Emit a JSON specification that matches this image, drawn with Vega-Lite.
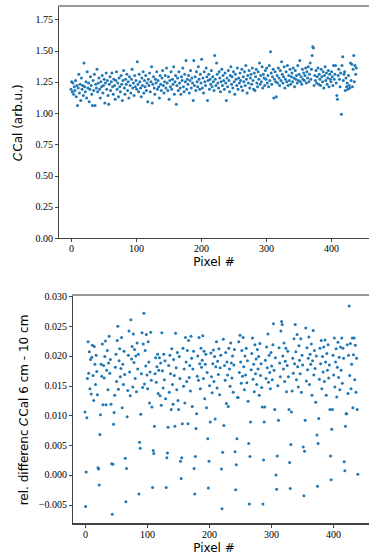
{
"$schema":"https://vega.github.io/schema/vega-lite/v6.json",
"padding":{"top":5,"left":11,"right":0,"bottom":0},
"background":"white",
"spacing":23,
"columns":1,
"align":"none",
"config":{"view":{"stroke":null},
"axis":{"grid":false,"labelOverlap":false,"labelFlush":false,"labelBound":false,"labelFont":"Liberation Serif","labelFontSize":10,"labelColor":"#000","tickColor":"#444","domainColor":"#444","tickSize":3.5,"labelPadding":2,"titleFont":"DejaVu Sans","titleFontSize":12,"titleFontWeight":"normal","titleColor":"#000"}},
"datasets":{
"top":[{"x":0,"y":1.19},{"x":1,"y":1.25},{"x":2,"y":1.17},{"x":3,"y":1.24},{"x":4,"y":1.15},{"x":5,"y":1.21},{"x":6,"y":1.18},{"x":7,"y":1.26},{"x":8,"y":1.13},{"x":9,"y":1.22},{"x":10,"y":1.06},{"x":11,"y":1.20},{"x":12,"y":1.31},{"x":13,"y":1.16},{"x":14,"y":1.23},{"x":15,"y":1.10},{"x":16,"y":1.28},{"x":17,"y":1.19},{"x":18,"y":1.22},{"x":19,"y":1.14},
{"x":20,"y":1.40},{"x":21,"y":1.21},{"x":22,"y":1.17},{"x":23,"y":1.25},{"x":24,"y":1.12},{"x":25,"y":1.33},{"x":26,"y":1.20},{"x":27,"y":1.24},{"x":28,"y":1.09},{"x":29,"y":1.19},{"x":30,"y":1.29},{"x":31,"y":1.22},{"x":32,"y":1.15},{"x":33,"y":1.06},{"x":34,"y":1.26},{"x":35,"y":1.18},{"x":36,"y":1.31},{"x":37,"y":1.06},{"x":38,"y":1.23},{"x":39,"y":1.20},
{"x":40,"y":1.35},{"x":41,"y":1.17},{"x":42,"y":1.24},{"x":43,"y":1.28},{"x":44,"y":1.19},{"x":45,"y":1.12},{"x":46,"y":1.25},{"x":47,"y":1.21},{"x":48,"y":1.30},{"x":49,"y":1.16},{"x":50,"y":1.22},{"x":51,"y":1.27},{"x":52,"y":1.08},{"x":53,"y":1.24},{"x":54,"y":1.32},{"x":55,"y":1.19},{"x":56,"y":1.26},{"x":57,"y":1.14},{"x":58,"y":1.07},{"x":59,"y":1.23},
{"x":60,"y":1.29},{"x":61,"y":1.18},{"x":62,"y":1.25},{"x":63,"y":1.32},{"x":64,"y":1.21},{"x":65,"y":1.15},{"x":66,"y":1.27},{"x":67,"y":1.22},{"x":68,"y":1.11},{"x":69,"y":1.26},{"x":70,"y":1.33},{"x":71,"y":1.19},{"x":72,"y":1.24},{"x":73,"y":1.13},{"x":74,"y":1.28},{"x":75,"y":1.21},{"x":76,"y":1.17},{"x":77,"y":1.30},{"x":78,"y":1.23},{"x":79,"y":1.10},
{"x":80,"y":1.26},{"x":81,"y":1.34},{"x":82,"y":1.20},{"x":83,"y":1.15},{"x":84,"y":1.27},{"x":85,"y":1.23},{"x":86,"y":1.31},{"x":87,"y":1.18},{"x":88,"y":1.25},{"x":89,"y":1.12},{"x":90,"y":1.29},{"x":91,"y":1.22},{"x":92,"y":1.16},{"x":93,"y":1.27},{"x":94,"y":1.35},{"x":95,"y":1.20},{"x":96,"y":1.24},{"x":97,"y":1.14},{"x":98,"y":1.30},{"x":99,"y":1.21},
{"x":100,"y":1.26},{"x":101,"y":1.19},{"x":102,"y":1.41},{"x":103,"y":1.23},{"x":104,"y":1.17},{"x":105,"y":1.31},{"x":106,"y":1.25},{"x":107,"y":1.20},{"x":108,"y":1.13},{"x":109,"y":1.28},{"x":110,"y":1.22},{"x":111,"y":1.33},{"x":112,"y":1.16},{"x":113,"y":1.26},{"x":114,"y":1.21},{"x":115,"y":1.30},{"x":116,"y":1.18},{"x":117,"y":1.24},{"x":118,"y":1.09},{"x":119,"y":1.27},
{"x":120,"y":1.22},{"x":121,"y":1.32},{"x":122,"y":1.17},{"x":123,"y":1.25},{"x":124,"y":1.37},{"x":125,"y":1.08},{"x":126,"y":1.23},{"x":127,"y":1.29},{"x":128,"y":1.20},{"x":129,"y":1.15},{"x":130,"y":1.27},{"x":131,"y":1.24},{"x":132,"y":1.33},{"x":133,"y":1.19},{"x":134,"y":1.26},{"x":135,"y":1.21},{"x":136,"y":1.12},{"x":137,"y":1.30},{"x":138,"y":1.23},{"x":139,"y":1.18},
{"x":140,"y":1.28},{"x":141,"y":1.34},{"x":142,"y":1.22},{"x":143,"y":1.16},{"x":144,"y":1.25},{"x":145,"y":1.30},{"x":146,"y":1.20},{"x":147,"y":1.36},{"x":148,"y":1.24},{"x":149,"y":1.18},{"x":150,"y":1.29},{"x":151,"y":1.11},{"x":152,"y":1.26},{"x":153,"y":1.21},{"x":154,"y":1.33},{"x":155,"y":1.19},{"x":156,"y":1.27},{"x":157,"y":1.23},{"x":158,"y":1.37},{"x":159,"y":1.15},
{"x":160,"y":1.25},{"x":161,"y":1.30},{"x":162,"y":1.07},{"x":163,"y":1.22},{"x":164,"y":1.28},{"x":165,"y":1.18},{"x":166,"y":1.33},{"x":167,"y":1.24},{"x":168,"y":1.20},{"x":169,"y":1.15},{"x":170,"y":1.29},{"x":171,"y":1.26},{"x":172,"y":1.36},{"x":173,"y":1.21},{"x":174,"y":1.17},{"x":175,"y":1.31},{"x":176,"y":1.25},{"x":177,"y":1.42},{"x":178,"y":1.19},{"x":179,"y":1.27},
{"x":180,"y":1.23},{"x":181,"y":1.30},{"x":182,"y":1.16},{"x":183,"y":1.26},{"x":184,"y":1.34},{"x":185,"y":1.20},{"x":186,"y":1.28},{"x":187,"y":1.24},{"x":188,"y":1.10},{"x":189,"y":1.42},{"x":190,"y":1.22},{"x":191,"y":1.29},{"x":192,"y":1.18},{"x":193,"y":1.33},{"x":194,"y":1.25},{"x":195,"y":1.21},{"x":196,"y":1.37},{"x":197,"y":1.27},{"x":198,"y":1.19},{"x":199,"y":1.31},
{"x":200,"y":1.24},{"x":201,"y":1.43},{"x":202,"y":1.20},{"x":203,"y":1.28},{"x":204,"y":1.16},{"x":205,"y":1.33},{"x":206,"y":1.25},{"x":207,"y":1.22},{"x":208,"y":1.36},{"x":209,"y":1.29},{"x":210,"y":1.10},{"x":211,"y":1.26},{"x":212,"y":1.31},{"x":213,"y":1.19},{"x":214,"y":1.27},{"x":215,"y":1.23},{"x":216,"y":1.34},{"x":217,"y":1.21},{"x":218,"y":1.29},{"x":219,"y":1.25},
{"x":220,"y":1.18},{"x":221,"y":1.46},{"x":222,"y":1.27},{"x":223,"y":1.22},{"x":224,"y":1.40},{"x":225,"y":1.31},{"x":226,"y":1.24},{"x":227,"y":1.20},{"x":228,"y":1.33},{"x":229,"y":1.28},{"x":230,"y":1.17},{"x":231,"y":1.25},{"x":232,"y":1.35},{"x":233,"y":1.22},{"x":234,"y":1.30},{"x":235,"y":1.26},{"x":236,"y":1.19},{"x":237,"y":1.32},{"x":238,"y":1.24},{"x":239,"y":1.10},
{"x":240,"y":1.28},{"x":241,"y":1.21},{"x":242,"y":1.34},{"x":243,"y":1.26},{"x":244,"y":1.17},{"x":245,"y":1.30},{"x":246,"y":1.37},{"x":247,"y":1.23},{"x":248,"y":1.29},{"x":249,"y":1.20},{"x":250,"y":1.33},{"x":251,"y":1.25},{"x":252,"y":1.15},{"x":253,"y":1.31},{"x":254,"y":1.27},{"x":255,"y":1.22},{"x":256,"y":1.36},{"x":257,"y":1.19},{"x":258,"y":1.28},{"x":259,"y":1.24},
{"x":260,"y":1.32},{"x":261,"y":1.26},{"x":262,"y":1.21},{"x":263,"y":1.35},{"x":264,"y":1.18},{"x":265,"y":1.29},{"x":266,"y":1.25},{"x":267,"y":1.33},{"x":268,"y":1.22},{"x":269,"y":1.38},{"x":270,"y":1.27},{"x":271,"y":1.16},{"x":272,"y":1.30},{"x":273,"y":1.24},{"x":274,"y":1.34},{"x":275,"y":1.20},{"x":276,"y":1.28},{"x":277,"y":1.31},{"x":278,"y":1.23},{"x":279,"y":1.36},
{"x":280,"y":1.26},{"x":281,"y":1.19},{"x":282,"y":1.32},{"x":283,"y":1.18},{"x":284,"y":1.29},{"x":285,"y":1.35},{"x":286,"y":1.24},{"x":287,"y":1.21},{"x":288,"y":1.33},{"x":289,"y":1.27},{"x":290,"y":1.40},{"x":291,"y":1.23},{"x":292,"y":1.30},{"x":293,"y":1.25},{"x":294,"y":1.37},{"x":295,"y":1.20},{"x":296,"y":1.31},{"x":297,"y":1.28},{"x":298,"y":1.22},{"x":299,"y":1.34},
{"x":300,"y":1.27},{"x":301,"y":1.36},{"x":302,"y":1.24},{"x":303,"y":1.30},{"x":304,"y":1.21},{"x":305,"y":1.38},{"x":306,"y":1.26},{"x":307,"y":1.49},{"x":308,"y":1.32},{"x":309,"y":1.23},{"x":310,"y":1.29},{"x":311,"y":1.35},{"x":312,"y":1.12},{"x":313,"y":1.27},{"x":314,"y":1.33},{"x":315,"y":1.25},{"x":316,"y":1.13},{"x":317,"y":1.30},{"x":318,"y":1.24},{"x":319,"y":1.36},
{"x":320,"y":1.28},{"x":321,"y":1.22},{"x":322,"y":1.34},{"x":323,"y":1.26},{"x":324,"y":1.41},{"x":325,"y":1.31},{"x":326,"y":1.24},{"x":327,"y":1.29},{"x":328,"y":1.37},{"x":329,"y":1.20},{"x":330,"y":1.27},{"x":331,"y":1.33},{"x":332,"y":1.25},{"x":333,"y":1.38},{"x":334,"y":1.22},{"x":335,"y":1.30},{"x":336,"y":1.26},{"x":337,"y":1.35},{"x":338,"y":1.23},{"x":339,"y":1.29},
{"x":340,"y":1.32},{"x":341,"y":1.25},{"x":342,"y":1.36},{"x":343,"y":1.28},{"x":344,"y":1.21},{"x":345,"y":1.34},{"x":346,"y":1.27},{"x":347,"y":1.30},{"x":348,"y":1.24},{"x":349,"y":1.38},{"x":350,"y":1.26},{"x":351,"y":1.31},{"x":352,"y":1.42},{"x":353,"y":1.25},{"x":354,"y":1.29},{"x":355,"y":1.23},{"x":356,"y":1.35},{"x":357,"y":1.27},{"x":358,"y":1.32},{"x":359,"y":1.26},
{"x":360,"y":1.30},{"x":361,"y":1.36},{"x":362,"y":1.24},{"x":363,"y":1.33},{"x":364,"y":1.28},{"x":365,"y":1.37},{"x":366,"y":1.25},{"x":367,"y":1.31},{"x":368,"y":1.40},{"x":369,"y":1.27},{"x":370,"y":1.35},{"x":371,"y":1.46},{"x":372,"y":1.53},{"x":373,"y":1.52},{"x":374,"y":1.22},{"x":375,"y":1.30},{"x":376,"y":1.26},{"x":377,"y":1.34},{"x":378,"y":1.24},{"x":379,"y":1.29},
{"x":380,"y":1.36},{"x":381,"y":1.23},{"x":382,"y":1.31},{"x":383,"y":1.27},{"x":384,"y":1.22},{"x":385,"y":1.35},{"x":386,"y":1.29},{"x":387,"y":1.25},{"x":388,"y":1.33},{"x":389,"y":1.20},{"x":390,"y":1.30},{"x":391,"y":1.37},{"x":392,"y":1.26},{"x":393,"y":1.32},{"x":394,"y":1.23},{"x":395,"y":1.28},{"x":396,"y":1.34},{"x":397,"y":1.21},{"x":398,"y":1.31},{"x":399,"y":1.27},
{"x":400,"y":1.25},{"x":401,"y":1.33},{"x":402,"y":1.29},{"x":403,"y":1.22},{"x":404,"y":1.38},{"x":405,"y":1.27},{"x":406,"y":1.31},{"x":407,"y":1.38},{"x":408,"y":1.24},{"x":409,"y":1.14},{"x":410,"y":1.11},{"x":411,"y":1.30},{"x":412,"y":1.35},{"x":413,"y":1.27},{"x":414,"y":1.21},{"x":415,"y":1.32},{"x":416,"y":0.99},{"x":417,"y":1.38},{"x":418,"y":1.45},{"x":419,"y":1.26},
{"x":420,"y":1.31},{"x":421,"y":1.33},{"x":422,"y":1.18},{"x":423,"y":1.28},{"x":424,"y":1.21},{"x":425,"y":1.24},{"x":426,"y":1.19},{"x":427,"y":1.30},{"x":428,"y":1.22},{"x":429,"y":1.20},{"x":430,"y":1.40},{"x":431,"y":1.26},{"x":432,"y":1.39},{"x":433,"y":1.21},{"x":434,"y":1.35},{"x":435,"y":1.46},{"x":436,"y":1.25},{"x":437,"y":1.38},{"x":438,"y":1.31},{"x":439,"y":1.36}],
"bot":[{"x":0,"y":0.0106},{"x":1,"y":-0.0053},{"x":2,"y":0.0005},{"x":3,"y":0.0096},{"x":4,"y":0.0162},{"x":5,"y":0.0224},{"x":6,"y":0.0171},{"x":7,"y":0.0207},{"x":8,"y":0.0145},{"x":9,"y":0.0194},{"x":10,"y":0.0136},{"x":11,"y":0.0198},{"x":12,"y":0.0218},{"x":13,"y":0.0167},{"x":14,"y":0.0125},{"x":15,"y":0.0216},{"x":16,"y":0.0186},{"x":17,"y":0.0152},{"x":18,"y":0.0201},{"x":19,"y":0.0174},
{"x":20,"y":0.0135},{"x":21,"y":0.0012},{"x":22,"y":0.0010},{"x":23,"y":-0.0017},{"x":24,"y":0.0068},{"x":25,"y":0.0101},{"x":26,"y":0.0186},{"x":27,"y":0.0166},{"x":28,"y":0.0220},{"x":29,"y":0.0118},{"x":30,"y":0.0184},{"x":31,"y":0.0163},{"x":32,"y":0.0199},{"x":33,"y":0.0225},{"x":34,"y":0.0118},{"x":35,"y":0.0176},{"x":36,"y":0.0209},{"x":37,"y":0.0143},{"x":38,"y":0.0188},{"x":39,"y":0.0233},
{"x":40,"y":0.0171},{"x":41,"y":0.0194},{"x":42,"y":0.0119},{"x":43,"y":0.0019},{"x":44,"y":-0.0066},{"x":45,"y":0.0018},{"x":46,"y":0.0085},{"x":47,"y":0.0105},{"x":48,"y":0.0134},{"x":49,"y":0.0181},{"x":50,"y":0.0203},{"x":51,"y":0.0157},{"x":52,"y":0.0226},{"x":53,"y":0.0250},{"x":54,"y":0.0144},{"x":55,"y":0.0192},{"x":56,"y":0.0212},{"x":57,"y":0.0165},{"x":58,"y":0.0179},{"x":59,"y":0.0231},
{"x":60,"y":0.0113},{"x":61,"y":0.0186},{"x":62,"y":0.0152},{"x":63,"y":0.0208},{"x":64,"y":0.0169},{"x":65,"y":0.0028},{"x":66,"y":-0.0045},{"x":67,"y":0.0011},{"x":68,"y":0.0098},{"x":69,"y":0.0142},{"x":70,"y":0.0201},{"x":71,"y":0.0242},{"x":72,"y":0.0173},{"x":73,"y":0.0133},{"x":74,"y":0.0261},{"x":75,"y":0.0195},{"x":76,"y":0.0216},{"x":77,"y":0.0148},{"x":78,"y":0.0237},{"x":79,"y":0.0189},
{"x":80,"y":0.0211},{"x":81,"y":0.0162},{"x":82,"y":0.0200},{"x":83,"y":0.0140},{"x":84,"y":0.0222},{"x":85,"y":0.0178},{"x":86,"y":0.0203},{"x":87,"y":-0.0032},{"x":88,"y":0.0055},{"x":89,"y":0.0045},{"x":90,"y":0.0102},{"x":91,"y":0.0170},{"x":92,"y":0.0239},{"x":93,"y":0.0147},{"x":94,"y":0.0220},{"x":95,"y":0.0272},{"x":96,"y":0.0153},{"x":97,"y":0.0209},{"x":98,"y":0.0183},{"x":99,"y":0.0236},
{"x":100,"y":0.0168},{"x":101,"y":0.0145},{"x":102,"y":0.0224},{"x":103,"y":0.0190},{"x":104,"y":0.0121},{"x":105,"y":0.0173},{"x":106,"y":0.0240},{"x":107,"y":0.0159},{"x":108,"y":0.0114},{"x":109,"y":-0.0021},{"x":110,"y":0.0041},{"x":111,"y":0.0036},{"x":112,"y":0.0082},{"x":113,"y":0.0170},{"x":114,"y":0.0197},{"x":115,"y":0.0156},{"x":116,"y":0.0182},{"x":117,"y":0.0203},{"x":118,"y":0.0137},{"x":119,"y":0.0176},
{"x":120,"y":0.0197},{"x":121,"y":0.0133},{"x":122,"y":0.0188},{"x":123,"y":0.0117},{"x":124,"y":0.0239},{"x":125,"y":0.0175},{"x":126,"y":0.0146},{"x":127,"y":0.0203},{"x":128,"y":0.0160},{"x":129,"y":0.0192},{"x":130,"y":0.0128},{"x":131,"y":-0.0021},{"x":132,"y":0.0029},{"x":133,"y":0.0037},{"x":134,"y":0.0080},{"x":135,"y":0.0184},{"x":136,"y":0.0139},{"x":137,"y":0.0201},{"x":138,"y":0.0170},{"x":139,"y":0.0110},
{"x":140,"y":0.0212},{"x":141,"y":0.0152},{"x":142,"y":0.0119},{"x":143,"y":0.0194},{"x":144,"y":0.0167},{"x":145,"y":0.0082},{"x":146,"y":0.0238},{"x":147,"y":0.0180},{"x":148,"y":0.0143},{"x":149,"y":0.0206},{"x":150,"y":0.0125},{"x":151,"y":0.0110},{"x":152,"y":0.0199},{"x":153,"y":0.0162},{"x":154,"y":0.0023},{"x":155,"y":-0.0006},{"x":156,"y":0.0029},{"x":157,"y":0.0086},{"x":158,"y":0.0213},{"x":159,"y":0.0149},
{"x":160,"y":0.0178},{"x":161,"y":0.0121},{"x":162,"y":0.0231},{"x":163,"y":0.0190},{"x":164,"y":0.0157},{"x":165,"y":0.0209},{"x":166,"y":0.0086},{"x":167,"y":0.0226},{"x":168,"y":0.0164},{"x":169,"y":0.0184},{"x":170,"y":0.0141},{"x":171,"y":0.0233},{"x":172,"y":0.0196},{"x":173,"y":0.0115},{"x":174,"y":0.0178},{"x":175,"y":0.0208},{"x":176,"y":0.0011},{"x":177,"y":-0.0032},{"x":178,"y":0.0031},{"x":179,"y":0.0078},
{"x":180,"y":0.0103},{"x":181,"y":0.0166},{"x":182,"y":0.0200},{"x":183,"y":0.0159},{"x":184,"y":0.0231},{"x":185,"y":0.0187},{"x":186,"y":0.0145},{"x":187,"y":0.0213},{"x":188,"y":0.0181},{"x":189,"y":0.0193},{"x":190,"y":0.0234},{"x":191,"y":0.0162},{"x":192,"y":0.0208},{"x":193,"y":0.0128},{"x":194,"y":0.0186},{"x":195,"y":0.0203},{"x":196,"y":0.0113},{"x":197,"y":0.0172},{"x":198,"y":0.0061},{"x":199,"y":-0.0022},
{"x":200,"y":0.0023},{"x":201,"y":0.0150},{"x":202,"y":0.0089},{"x":203,"y":0.0205},{"x":204,"y":0.0165},{"x":205,"y":0.0138},{"x":206,"y":0.0187},{"x":207,"y":0.0210},{"x":208,"y":0.0157},{"x":209,"y":0.0199},{"x":210,"y":0.0094},{"x":211,"y":0.0182},{"x":212,"y":0.0224},{"x":213,"y":0.0146},{"x":214,"y":0.0191},{"x":215,"y":0.0169},{"x":216,"y":0.0212},{"x":217,"y":0.0135},{"x":218,"y":0.0180},{"x":219,"y":0.0201},
{"x":220,"y":0.0010},{"x":221,"y":-0.0057},{"x":222,"y":0.0038},{"x":223,"y":0.0228},{"x":224,"y":0.0083},{"x":225,"y":0.0184},{"x":226,"y":0.0159},{"x":227,"y":0.0206},{"x":228,"y":0.0120},{"x":229,"y":0.0190},{"x":230,"y":0.0168},{"x":231,"y":0.0115},{"x":232,"y":0.0213},{"x":233,"y":0.0178},{"x":234,"y":0.0149},{"x":235,"y":0.0222},{"x":236,"y":0.0188},{"x":237,"y":0.0163},{"x":238,"y":0.0200},{"x":239,"y":0.0139},
{"x":240,"y":0.0185},{"x":241,"y":0.0211},{"x":242,"y":0.0039},{"x":243,"y":-0.0025},{"x":244,"y":0.0017},{"x":245,"y":0.0061},{"x":246,"y":0.0130},{"x":247,"y":0.0130},{"x":248,"y":0.0224},{"x":249,"y":0.0172},{"x":250,"y":0.0235},{"x":251,"y":0.0190},{"x":252,"y":0.0154},{"x":253,"y":0.0209},{"x":254,"y":0.0166},{"x":255,"y":0.0231},{"x":256,"y":0.0182},{"x":257,"y":0.0143},{"x":258,"y":0.0200},{"x":259,"y":0.0168},
{"x":260,"y":0.0213},{"x":261,"y":0.0155},{"x":262,"y":0.0192},{"x":263,"y":0.0124},{"x":264,"y":0.0053},{"x":265,"y":-0.0049},{"x":266,"y":0.0031},{"x":267,"y":0.0089},{"x":268,"y":0.0177},{"x":269,"y":0.0204},{"x":270,"y":0.0230},{"x":271,"y":0.0161},{"x":272,"y":0.0186},{"x":273,"y":0.0140},{"x":274,"y":0.0219},{"x":275,"y":0.0170},{"x":276,"y":0.0195},{"x":277,"y":0.0152},{"x":278,"y":0.0211},{"x":279,"y":0.0178},
{"x":280,"y":0.0199},{"x":281,"y":0.0134},{"x":282,"y":0.0221},{"x":283,"y":0.0167},{"x":284,"y":0.0187},{"x":285,"y":0.0147},{"x":286,"y":0.0114},{"x":287,"y":-0.0049},{"x":288,"y":0.0025},{"x":289,"y":0.0089},{"x":290,"y":0.0114},{"x":291,"y":0.0193},{"x":292,"y":0.0162},{"x":293,"y":0.0215},{"x":294,"y":0.0180},{"x":295,"y":0.0237},{"x":296,"y":0.0156},{"x":297,"y":0.0201},{"x":298,"y":0.0172},{"x":299,"y":0.0145},
{"x":300,"y":0.0206},{"x":301,"y":0.0183},{"x":302,"y":0.0160},{"x":303,"y":0.0219},{"x":304,"y":0.0254},{"x":305,"y":0.0176},{"x":306,"y":0.0110},{"x":307,"y":0.0197},{"x":308,"y":0.0000},{"x":309,"y":-0.0024},{"x":310,"y":0.0032},{"x":311,"y":0.0150},{"x":312,"y":0.0092},{"x":313,"y":0.0214},{"x":314,"y":0.0188},{"x":315,"y":0.0165},{"x":316,"y":0.0242},{"x":317,"y":0.0258},{"x":318,"y":0.0253},{"x":319,"y":0.0200},
{"x":320,"y":0.0178},{"x":321,"y":0.0222},{"x":322,"y":0.0157},{"x":323,"y":0.0191},{"x":324,"y":0.0213},{"x":325,"y":0.0140},{"x":326,"y":0.0184},{"x":327,"y":0.0208},{"x":328,"y":0.0165},{"x":329,"y":0.0110},{"x":330,"y":0.0021},{"x":331,"y":-0.0023},{"x":332,"y":0.0051},{"x":333,"y":0.0106},{"x":334,"y":0.0141},{"x":335,"y":0.0196},{"x":336,"y":0.0171},{"x":337,"y":0.0229},{"x":338,"y":0.0187},{"x":339,"y":0.0253},
{"x":340,"y":0.0207},{"x":341,"y":0.0160},{"x":342,"y":0.0236},{"x":343,"y":0.0182},{"x":344,"y":0.0148},{"x":345,"y":0.0217},{"x":346,"y":0.0193},{"x":347,"y":0.0170},{"x":348,"y":0.0229},{"x":349,"y":0.0139},{"x":350,"y":0.0201},{"x":351,"y":0.0185},{"x":352,"y":0.0047},{"x":353,"y":-0.0035},{"x":354,"y":0.0040},{"x":355,"y":0.0092},{"x":356,"y":0.0247},{"x":357,"y":0.0158},{"x":358,"y":0.0214},{"x":359,"y":0.0177},
{"x":360,"y":0.0196},{"x":361,"y":0.0232},{"x":362,"y":0.0152},{"x":363,"y":0.0203},{"x":364,"y":0.0186},{"x":365,"y":0.0220},{"x":366,"y":0.0134},{"x":367,"y":0.0192},{"x":368,"y":0.0243},{"x":369,"y":0.0168},{"x":370,"y":0.0209},{"x":371,"y":0.0179},{"x":372,"y":0.0122},{"x":373,"y":0.0200},{"x":374,"y":0.0067},{"x":375,"y":-0.0019},{"x":376,"y":0.0053},{"x":377,"y":0.0095},{"x":378,"y":0.0161},{"x":379,"y":0.0213},
{"x":380,"y":0.0187},{"x":381,"y":0.0226},{"x":382,"y":0.0145},{"x":383,"y":0.0199},{"x":384,"y":0.0173},{"x":385,"y":0.0215},{"x":386,"y":0.0157},{"x":387,"y":0.0227},{"x":388,"y":0.0190},{"x":389,"y":0.0134},{"x":390,"y":0.0204},{"x":391,"y":0.0176},{"x":392,"y":0.0219},{"x":393,"y":0.0163},{"x":394,"y":0.0185},{"x":395,"y":0.0110},{"x":396,"y":0.0032},{"x":397,"y":-0.0008},{"x":398,"y":0.0077},{"x":399,"y":0.0110},
{"x":400,"y":0.0201},{"x":401,"y":0.0168},{"x":402,"y":0.0230},{"x":403,"y":0.0148},{"x":404,"y":0.0190},{"x":405,"y":0.0212},{"x":406,"y":0.0131},{"x":407,"y":0.0181},{"x":408,"y":0.0223},{"x":409,"y":0.0164},{"x":410,"y":0.0198},{"x":411,"y":0.0143},{"x":412,"y":0.0215},{"x":413,"y":0.0176},{"x":414,"y":0.0230},{"x":415,"y":0.0154},{"x":416,"y":0.0213},{"x":417,"y":0.0196},{"x":418,"y":0.0022},{"x":419,"y":0.0007},
{"x":420,"y":0.0082},{"x":421,"y":0.0103},{"x":422,"y":0.0103},{"x":423,"y":0.0219},{"x":424,"y":0.0137},{"x":425,"y":0.0201},{"x":426,"y":0.0284},{"x":427,"y":0.0167},{"x":428,"y":0.0221},{"x":429,"y":0.0145},{"x":430,"y":0.0186},{"x":431,"y":0.0230},{"x":432,"y":0.0113},{"x":433,"y":0.0202},{"x":434,"y":0.0230},{"x":435,"y":0.0160},{"x":436,"y":0.0218},{"x":437,"y":0.0139},{"x":438,"y":0.0196},{"x":439,"y":0.0110},{"x":440,"y":0.0001}]
},
"concat":[
{"width":311,"height":232,
"layer":[
{"data":{"name":"top"},"mark":{"type":"point","filled":true,"size":9,"color":"#1f77b4","opacity":1},
"encoding":{
"x":{"field":"x","type":"quantitative","scale":{"domain":[-20,458.5],"nice":false,"zero":false},"axis":{"values":[0,100,200,300,400],"tickCount":10,"labelOverlap":false,"title":"Pixel #","titlePadding":3}},
"y":{"field":"y","type":"quantitative","scale":{"domain":[0,1.856],"nice":false},"axis":{"values":[0,0.25,0.5,0.75,1,1.25,1.5,1.75],"tickCount":12,"labelOverlap":false,"format":".2f","title":"𝐶Cal (arb.u.)","titlePadding":11}}}},
{"data":{"name":"top"},"mark":{"type":"rule","color":"#999","strokeWidth":1},"encoding":{"y":{"datum":1.856}}}
]},
{"width":311,"height":229,
"layer":[
{"data":{"name":"bot"},"mark":{"type":"point","filled":true,"size":9,"color":"#1f77b4","opacity":1},
"encoding":{
"x":{"field":"x","type":"quantitative","scale":{"domain":[-43.5,458],"nice":false,"zero":false},"axis":{"values":[0,100,200,300,400],"tickCount":10,"labelOverlap":false,"domain":false,"title":"Pixel #","titlePadding":3}},
"y":{"field":"y","type":"quantitative","scale":{"domain":[-0.00825,0.03025],"nice":false,"zero":false},"axis":{"values":[-0.005,0,0.005,0.01,0.015,0.02,0.025,0.03],"tickCount":12,"labelOverlap":false,"offset":-14,"format":".3f","title":"rel. differenc 𝐶Cal 6 cm - 10 cm","titlePadding":8}}}},
{"data":{"name":"bot"},"mark":{"type":"rule","color":"#999","strokeWidth":1},"encoding":{"x":{"datum":-20.5},"x2":{"datum":458},"y":{"datum":0.03025}}},
{"data":{"name":"bot"},"mark":{"type":"rule","color":"#444","strokeWidth":1},"encoding":{"x":{"datum":-20.5},"x2":{"datum":458},"y":{"datum":-0.00825}}}
]}
]
}
